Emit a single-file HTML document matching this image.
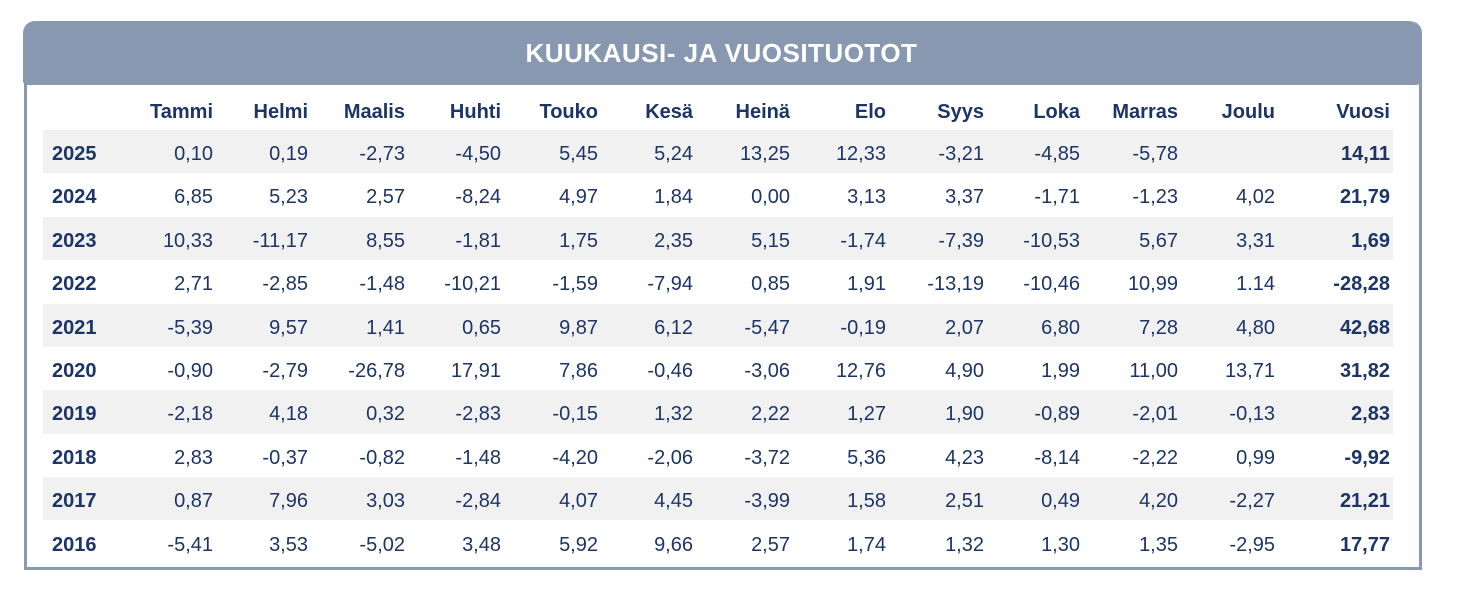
<!DOCTYPE html>
<html><head><meta charset="utf-8"><style>
body{margin:0;width:1460px;height:594px;background:#fff;font-family:"Liberation Sans",sans-serif;color:#1c3566;position:relative;overflow:hidden}
.frame{position:absolute;left:24px;top:21px;width:1392px;height:546px;border:3px solid #8899b2;border-top:none;border-radius:12px 12px 0 0}
.head{position:absolute;left:23px;top:21px;width:1397px;height:64px;background:#8798b0;border-radius:12px 12px 4px 4px;color:#fff;font-weight:bold;font-size:26px;text-align:center;line-height:64px;letter-spacing:0.5px}
.row{position:absolute;left:43px;width:1350px;height:43.3px}
.row.s{background:#f1f1f1}
.c{position:absolute;font-size:20px;line-height:43px;text-align:right;white-space:nowrap}
.b{font-weight:bold}
</style></head><body>
<div class="frame"></div>
<div class="head">KUUKAUSI- JA VUOSITUOTOT</div>
<div id="t"></div>
<script>
(function(){
var R=[213,308,405,501,598,693,790,886,984,1080,1178,1275,1390];
var H=["Tammi","Helmi","Maalis","Huhti","Touko","Kesä","Heinä","Elo","Syys","Loka","Marras","Joulu","Vuosi"];
var D=[["2025","0,10","0,19","-2,73","-4,50","5,45","5,24","13,25","12,33","-3,21","-4,85","-5,78","","14,11"],
["2024","6,85","5,23","2,57","-8,24","4,97","1,84","0,00","3,13","3,37","-1,71","-1,23","4,02","21,79"],
["2023","10,33","-11,17","8,55","-1,81","1,75","2,35","5,15","-1,74","-7,39","-10,53","5,67","3,31","1,69"],
["2022","2,71","-2,85","-1,48","-10,21","-1,59","-7,94","0,85","1,91","-13,19","-10,46","10,99","1.14","-28,28"],
["2021","-5,39","9,57","1,41","0,65","9,87","6,12","-5,47","-0,19","2,07","6,80","7,28","4,80","42,68"],
["2020","-0,90","-2,79","-26,78","17,91","7,86","-0,46","-3,06","12,76","4,90","1,99","11,00","13,71","31,82"],
["2019","-2,18","4,18","0,32","-2,83","-0,15","1,32","2,22","1,27","1,90","-0,89","-2,01","-0,13","2,83"],
["2018","2,83","-0,37","-0,82","-1,48","-4,20","-2,06","-3,72","5,36","4,23","-8,14","-2,22","0,99","-9,92"],
["2017","0,87","7,96","3,03","-2,84","4,07","4,45","-3,99","1,58","2,51","0,49","4,20","-2,27","21,21"],
["2016","-5,41","3,53","-5,02","3,48","5,92","9,66","2,57","1,74","1,32","1,30","1,35","-2,95","17,77"]];
var h="";
for(var j=0;j<13;j++)h+='<div class="c b" style="top:91px;right:'+(1460-R[j])+'px">'+H[j]+'</div>';
for(var i=0;i<10;i++){var yy=130+i*43.4,ty=yy+3;
h+='<div class="row'+(i%2==0?' s':'')+'" style="top:'+yy+'px"></div>';
h+='<div class="c b" style="top:'+ty+'px;left:52px">'+D[i][0]+'</div>';
for(var j=0;j<13;j++)h+='<div class="c'+(j==12?' b':'')+'" style="top:'+ty+'px;right:'+(1460-R[j])+'px">'+D[i][j+1]+'</div>';}
document.getElementById('t').innerHTML=h;
})();
</script>
</body></html>
